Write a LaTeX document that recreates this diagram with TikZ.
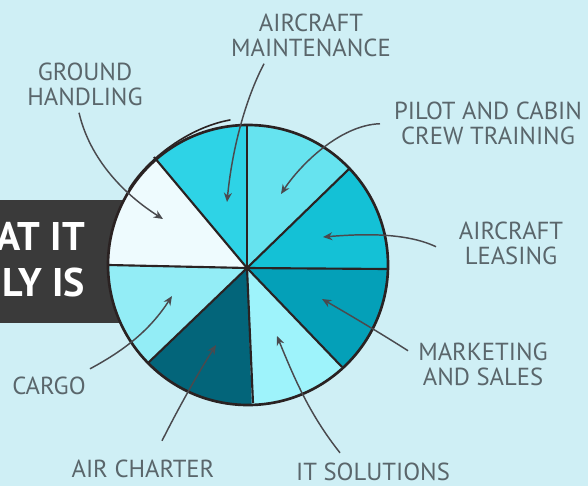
\documentclass[tikz,border=0pt]{standalone}
\usepackage{fontspec}
\setmainfont{PT Sans}
\usetikzlibrary{arrows.meta}
\definecolor{bgc}{HTML}{CFEFF5}
\definecolor{boxc}{HTML}{3A3A3A}
\definecolor{ink}{HTML}{2A2222}
\definecolor{lab}{HTML}{5A666B}
\definecolor{arr}{HTML}{4A4A4E}
\definecolor{sA}{HTML}{2ED3E6}
\definecolor{sB}{HTML}{66E3EF}
\definecolor{sC}{HTML}{14C1D6}
\definecolor{sD}{HTML}{04A0B8}
\definecolor{sE}{HTML}{9EF3FB}
\definecolor{sF}{HTML}{03657A}
\definecolor{sG}{HTML}{93EDF6}
\definecolor{sH}{HTML}{EEFBFE}
\tikzset{
  labeltxt/.style={font=\fontsize{18.5}{18.8}\selectfont, text=lab, align=center, inner sep=0pt},
  boxtxt/.style={font=\bfseries\fontsize{30}{30}\selectfont, text=white, inner sep=0pt, anchor=east},
  pointer/.style={draw=arr, line width=1.1pt, -{Stealth[length=7pt,width=6pt]}},
  spoke/.style={draw=ink, line width=1.6pt},
}
\begin{document}
\begin{tikzpicture}[x=0.75pt,y=-0.75pt]
\path[use as bounding box, fill=bgc] (0,0) rectangle (588,486);
\clip (0,0) rectangle (588,486);
\fill[boxc] (0,200) rectangle (140,323);
\node[boxtxt] (t1) at (85,236) {AT IT};
\node[boxtxt] (t2) at (85,282) {LY IS};
\coordinate (c) at (247,268);
% sectors
\def\R{140}
\begin{scope}
\clip (248,265) circle [radius=\R];
\fill[sA] (c) -- (247,100) -- (130,100) -- (154,157) -- cycle;
\fill[sB] (c) -- (247,100) -- (420,100) -- (350,168) -- cycle;
\fill[sC] (c) -- (350,168) -- (420,100) -- (420,269) -- (388,269) -- cycle;
\fill[sD] (c) -- (420,269) -- (420,420) -- (342,367) -- cycle;
\fill[sE] (c) -- (342,367) -- (360,440) -- (253,440) -- cycle;
\fill[sF] (c) -- (253,440) -- (120,440) -- (148,363) -- cycle;
\fill[sG] (c) -- (148,363) -- (90,420) -- (90,265) -- cycle;
\fill[sH] (c) -- (90,265) -- (90,120) -- (154,157) -- cycle;
\end{scope}
\foreach \e in {(247,125),(350,168),(388,269),(342,367),(253,403),(148,363),(109,265),(154,157)}
  \draw[spoke] (c) -- \e;
\draw[ink, line width=2pt] (248,265) circle [radius=\R];
\draw[ink, line width=1.2pt, line cap=round] (129,189) .. controls (148,158) and (190,127) .. (230,120);
% labels
\node[labeltxt] (maint) at (311,35) {AIRCRAFT\\MAINTENANCE};
\node[labeltxt] (ground) at (85,84) {GROUND\\HANDLING};
\node[labeltxt] (pilot) at (488,123) {PILOT AND CABIN\\CREW TRAINING};
\node[labeltxt] (leasing) at (511,243) {AIRCRAFT\\LEASING};
\node[labeltxt] (market) at (483,364) {MARKETING\\AND SALES};
\node[labeltxt] (cargo) at (49,386) {CARGO};
\node[labeltxt] (charter) at (143,469) {AIR CHARTER};
\node[labeltxt] (it) at (373,472) {IT SOLUTIONS};
% pointer ends
\coordinate (pm) at (227,202);
\coordinate (pg) at (163,219);
\coordinate (pp) at (281,194);
\coordinate (pl) at (323,237);
\coordinate (pk) at (322,299);
\coordinate (pc) at (172,296);
\coordinate (pa) at (216,345);
\coordinate (pi) at (277,336);
\draw[pointer] ([shift={(-47,7)}]maint.south) .. controls (245,100) and (232,150) .. (pm);
\draw[pointer] ([shift={(-6,7)}]ground.south) .. controls (90,160) and (125,195) .. (pg);
\draw[pointer] ([shift={(-108,-21)}]pilot.south) .. controls (340,125) and (300,165) .. (pp);
\draw[pointer] ([shift={(-75,-18)}]leasing.south) .. controls (405,232) and (360,234) .. (pl);
\draw[pointer] ([shift={(-75,-35)}]market.south) .. controls (385,336) and (350,315) .. (pk);
\draw[pointer] ([shift={(41,-8)}]cargo.north) .. controls (125,350) and (150,330) .. (pc);
\draw[pointer] ([shift={(19,-19)}]charter.north) .. controls (180,405) and (200,370) .. (pa);
\draw[pointer] ([shift={(-33,-10)}]it.north) .. controls (310,415) and (295,380) .. (pi);
\end{tikzpicture}
\end{document}
